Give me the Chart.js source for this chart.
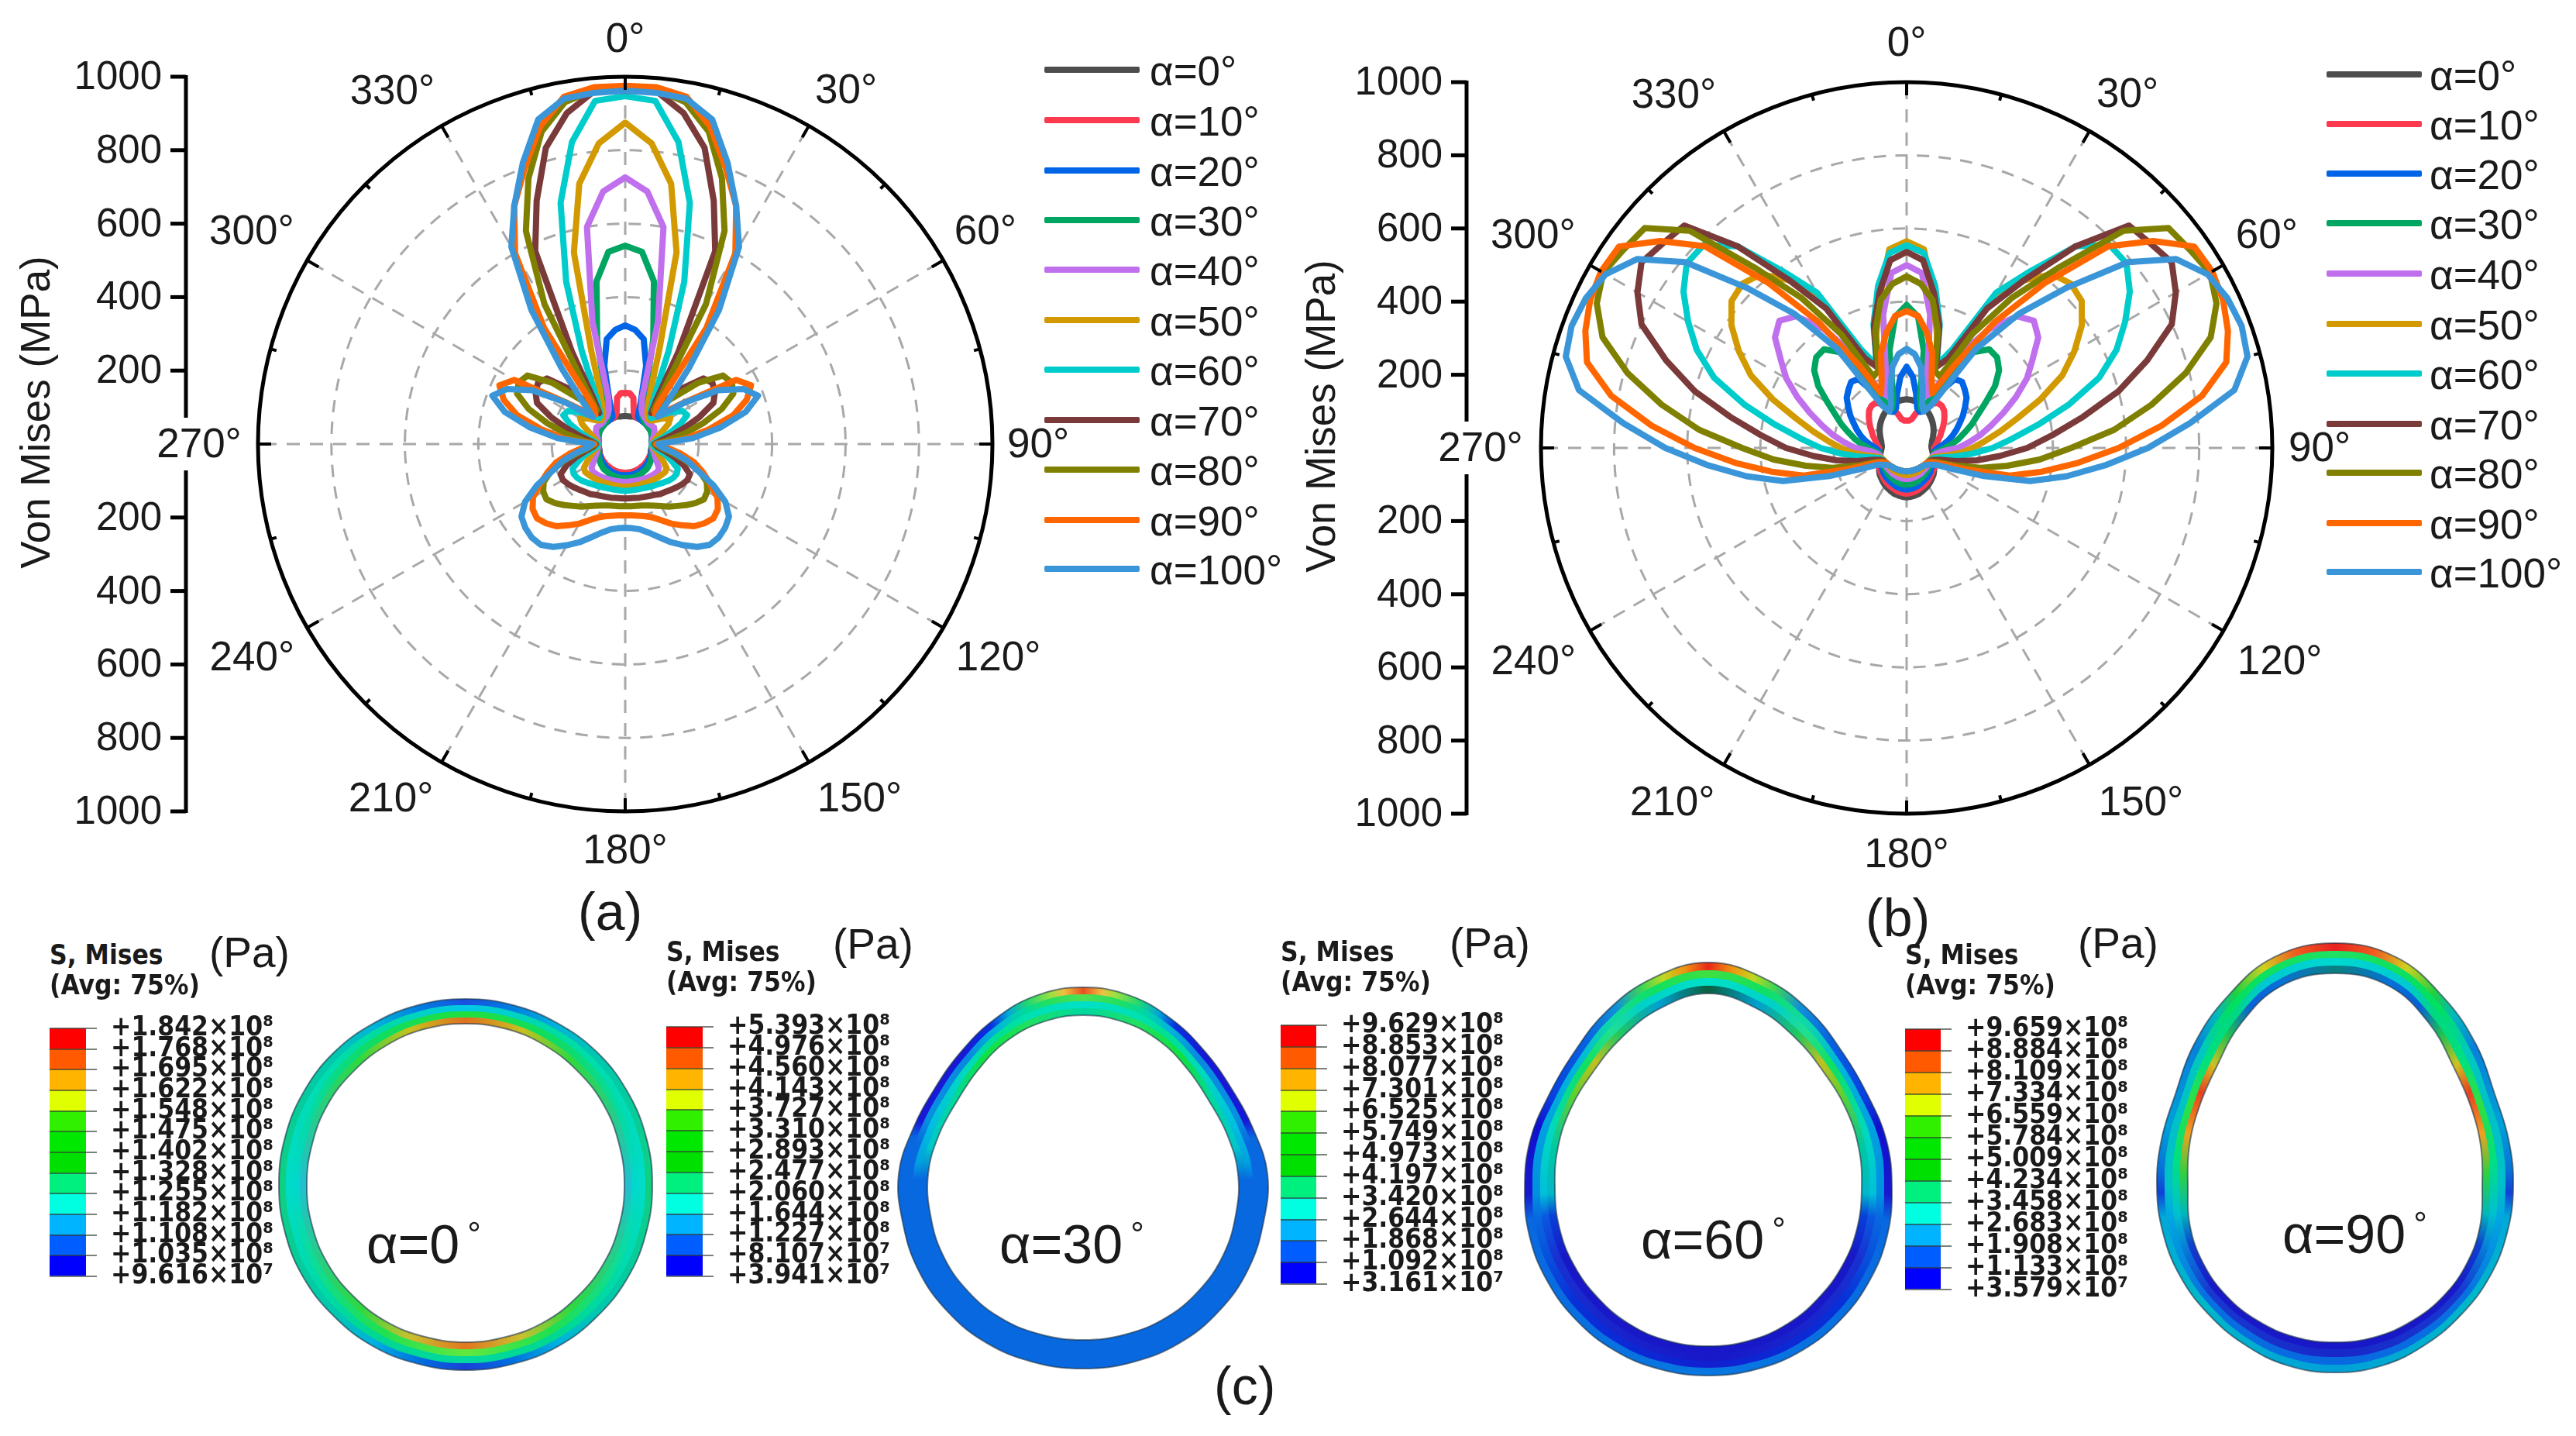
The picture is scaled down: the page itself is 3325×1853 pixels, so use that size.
<!DOCTYPE html>
<html>
<head>
<meta charset="utf-8">
<title>Von Mises polar plots</title>
<script src="https://cdn.jsdelivr.net/npm/chart.js@4/dist/chart.umd.js"></script>
<style>
  html, body { margin: 0; background: #fff; }
  #page { position: relative; width: 3325px; height: 1853px; overflow: hidden; background: #fff; }
  canvas { position: absolute; }
  .txt { position: absolute; white-space: nowrap; color: #1a1a1a; font-family: "Liberation Sans", Arial, sans-serif; }
  .swatch { position: absolute; height: 8px; border-radius: 2px; }
</style>
</head>
<body>
<div id="page"></div>
<script>
// --- data ---
const seriesNames = ['α=0°', 'α=10°', 'α=20°', 'α=30°', 'α=40°', 'α=50°', 'α=60°', 'α=70°', 'α=80°', 'α=90°', 'α=100°'];
const seriesColors = ['#4d4d4d', '#fb3a50', '#0064e6', '#00a562', '#c070ec', '#d29a00', '#00cccc', '#7b3a3a', '#808000', '#ff6600', '#3a96d8'];
const axisTicks = [200, 400, 600, 800, 1000];
const angleTicks = ['0°', '30°', '60°', '90°', '120°', '150°', '180°', '210°', '240°', '270°', '300°', '330°'];

// von Mises stress every 5 deg from 0 to 180, the curves are symmetric about the vertical
const a0 = [76,76,76,78,78,78,78,78,78,78,78,78,78,78,78,76,74,72,72,72,72,72,74,75,76,77,78,78,78,78,78,78,78,78,78,78,78];
const a10 = [139,139,128,90,80,78,78,78,78,78,78,78,78,78,78,76,74,72,72,72,74,74,74,74,74,75,75,76,76,76,77,77,78,78,78,78,78];
const a20 = [323,312,290,220,125,82,78,78,78,78,78,78,78,78,76,76,74,72,72,72,74,74,76,76,78,78,80,80,82,82,83,84,84,85,85,85,85];
const a30 = [540,525,450,295,170,112,92,85,80,78,78,78,78,78,76,76,74,72,72,72,74,76,78,80,82,84,86,88,90,90,91,92,92,93,93,93,93];
const a40 = [726,690,600,345,135,105,95,90,88,85,85,88,90,88,84,80,76,74,72,74,76,80,85,92,100,112,116,114,112,110,108,106,105,104,103,103,103];
const a50 = [875,822,720,540,270,165,125,105,95,92,100,120,142,130,110,95,85,78,74,76,82,92,102,115,130,133,130,127,125,122,120,118,117,116,116,116,116];
const a60 = [947,938,835,680,470,280,170,125,105,100,120,150,180,186,160,130,105,85,74,78,92,115,135,158,162,160,155,148,142,138,134,131,129,128,127,127,127];
const a70 = [962,965,915,835,705,580,290,150,110,210,278,290,282,265,215,165,125,95,80,88,110,140,170,194,196,190,183,176,170,166,160,156,153,151,149,148,148];
const a80 = [965,968,945,880,770,640,440,190,120,170,260,325,335,325,280,220,165,115,82,95,125,170,215,245,258,262,250,235,220,208,195,185,178,173,171,170,169];
const a90 = [975,975,960,895,800,715,600,385,135,115,130,200,349,378,352,305,232,165,85,115,155,195,225,255,290,308,314,305,292,270,250,228,212,203,198,195,194];
const a100 = [962,960,955,915,815,715,620,445,270,165,115,196,293,355,385,340,265,185,90,100,135,175,209,265,315,345,355,360,358,342,318,295,270,250,236,230,228];

const b0 = [133,132,130,128,125,120,115,110,105,100,95,90,85,80,76,72,70,68,68,70,72,75,78,82,86,92,98,104,108,113,118,122,126,130,132,134,135];
const b10 = [75,75,80,98,110,125,140,150,150,145,135,125,115,105,98,90,85,80,75,78,78,80,82,85,88,92,95,98,102,106,110,113,116,119,122,124,125];
const b20 = [222,195,150,112,105,110,170,230,236,225,214,195,178,160,145,130,115,100,85,78,78,78,78,80,82,85,88,92,95,98,100,103,106,109,111,113,114];
const b30 = [391,360,270,140,115,140,200,320,352,350,330,295,250,215,190,165,145,125,105,90,78,75,75,75,76,78,80,83,85,88,90,92,95,97,99,100,100];
const b40 = [500,480,370,220,150,170,300,400,470,492,470,420,380,330,282,240,205,170,140,100,85,76,74,73,73,74,75,76,77,78,80,81,82,83,84,85,85];
const b50 = [565,545,420,320,240,290,470,560,620,635,625,585,530,470,390,314,260,215,180,150,115,90,76,72,70,70,70,70,70,71,71,72,72,73,73,74,74];
const b60 = [554,535,450,350,240,300,490,590,720,785,785,745,690,633,560,460,365,290,235,180,135,100,80,74,72,70,68,67,66,65,65,64,64,64,64,64,64];
const b70 = [536,515,430,345,235,270,440,560,720,860,870,885,850,800,700,600,490,400,330,255,195,140,95,78,72,70,68,67,66,65,65,64,64,64,64,64,64];
const b80 = [469,450,410,330,225,215,360,500,640,840,935,945,958,935,885,790,680,570,450,365,280,210,140,90,75,70,68,67,66,65,65,64,64,64,64,64,64];
const b90 = [374,362,320,270,200,165,260,420,590,780,880,960,965,955,935,905,820,700,580,470,375,292,170,100,78,70,68,67,66,65,65,64,64,64,64,64,64];
const b100 = [271,257,225,170,125,110,135,331,480,620,790,900,950,968,975,965,910,778,660,545,445,350,225,135,92,80,72,68,66,65,65,64,64,64,64,64,64];

// contour legends, top to bottom
const bar0 = ['+1.842×10⁸','+1.768×10⁸','+1.695×10⁸','+1.622×10⁸','+1.548×10⁸','+1.475×10⁸','+1.402×10⁸','+1.328×10⁸','+1.255×10⁸','+1.182×10⁸','+1.108×10⁸','+1.035×10⁸','+9.616×10⁷'];
const bar30 = ['+5.393×10⁸','+4.976×10⁸','+4.560×10⁸','+4.143×10⁸','+3.727×10⁸','+3.310×10⁸','+2.893×10⁸','+2.477×10⁸','+2.060×10⁸','+1.644×10⁸','+1.227×10⁸','+8.107×10⁷','+3.941×10⁷'];
const bar60 = ['+9.629×10⁸','+8.853×10⁸','+8.077×10⁸','+7.301×10⁸','+6.525×10⁸','+5.749×10⁸','+4.973×10⁸','+4.197×10⁸','+3.420×10⁸','+2.644×10⁸','+1.868×10⁸','+1.092×10⁸','+3.161×10⁷'];
const bar90 = ['+9.659×10⁸','+8.884×10⁸','+8.109×10⁸','+7.334×10⁸','+6.559×10⁸','+5.784×10⁸','+5.009×10⁸','+4.234×10⁸','+3.458×10⁸','+2.683×10⁸','+1.908×10⁸','+1.133×10⁸','+3.579×10⁷'];
const barColors = ['#0000ff', '#005dff', '#00b4ff', '#00ffe0', '#00f080', '#00e000', '#00e800', '#30f000', '#e0ff00', '#ffb400', '#ff5a00', '#ff0000'];

// ring contours: radius every 15 deg from the top to the bottom, outer edge to hole
const ring0 = [
  [240,240,240,241,241,241,241,241,241,240,240,239,239],
  [232,232,232,232,232,232,232,232,232,231,231,230,230],
  [224,224,224,224,223,223,223,223,223,222,222,221,221],
  [216,216,215,215,215,214,214,214,214,213,213,212,212],
  [208,208,207,206,206,205,205,205,205,204,204,203,203]
];
const ring30 = [
  [241,238,230,223,221,227,238,241,246,249,251,251,251],
  [232,229,222,215,213,218,229,232,237,240,242,242,242],
  [223,221,214,207,205,210,219,223,228,231,233,233,233],
  [214,212,206,199,196,201,210,213,218,221,223,223,223],
  [205,203,198,191,188,193,200,204,209,212,214,214,214]
];
const ring60 = [
  [291,280,263,246,238,238,237,239,240,241,242,242,242],
  [281,270,253,237,229,229,227,229,230,231,232,232,232],
  [271,260,244,229,221,219,217,219,220,221,223,223,223],
  [261,250,234,220,213,210,208,209,210,211,213,214,214],
  [251,240,224,211,205,201,198,199,200,201,203,204,204]
];
const ring90 = [
  [314,306,281,258,238,232,230,230,231,232,235,239,240],
  [304,296,271,248,229,223,220,221,222,223,226,229,230],
  [295,287,262,238,220,213,210,212,214,215,217,220,220],
  [285,277,252,227,211,204,200,203,205,207,208,210,210],
  [275,268,243,217,203,195,190,194,197,199,200,201,201]
];

// colour around each ring zone, [angle from top, colour]
const zones0 = [
  [[0,'#1a50e0'],[15,'#0080e0'],[30,'#00b4d8'],[45,'#00c8b0'],[90,'#10d080'],[135,'#00c8b0'],[150,'#00b0e0'],[165,'#0070e0'],[180,'#1a40d8']],
  [[0,'#00c8e8'],[30,'#00dca0'],[90,'#00dcc8'],[150,'#00d890'],[180,'#00d8a0']],
  [[0,'#20e040'],[30,'#10dc60'],[90,'#00d8d0'],[150,'#20e050'],[180,'#60e840']],
  [[0,'#e07020'],[20,'#c8c020'],[40,'#30d840'],[90,'#20c0d0'],[140,'#30d840'],[160,'#c8c030'],[180,'#e07820']]
];
const zones30 = [
  [[0,'#e85020'],[6,'#f0c040'],[10,'#a0e040'],[18,'#20d870'],[25,'#00a8d8'],[32,'#0830e0'],[45,'#1818d8'],[72,'#1818d8'],[78,'#0868e0'],[180,'#0868e0']],
  [[0,'#50e050'],[12,'#20e060'],[20,'#00d8a0'],[30,'#00b8d8'],[45,'#0888e0'],[70,'#0890e0'],[80,'#0868e0'],[180,'#0868e0']],
  [[0,'#00e0c8'],[20,'#00e0b0'],[30,'#00e090'],[50,'#00d8c0'],[72,'#00c0e0'],[86,'#00a0e0'],[92,'#0868e0'],[180,'#0868e0']],
  [[0,'#00d8a0'],[20,'#20e060'],[40,'#10e040'],[60,'#00d8a0'],[80,'#00c8c8'],[92,'#0868e0'],[180,'#0868e0']]
];
const zones60 = [
  [[0,'#e82818'],[6,'#f09010'],[12,'#c0d820'],[18,'#40d850'],[27,'#1090d8'],[40,'#0860e0'],[60,'#0840e0'],[70,'#1010d0'],[92,'#1818d0'],[100,'#0868e0'],[180,'#0878e0']],
  [[0,'#40e040'],[15,'#10e060'],[30,'#10d8a8'],[45,'#00b8d8'],[70,'#00a0e0'],[92,'#0090e0'],[100,'#0868e0'],[130,'#0830d8'],[180,'#1020d0']],
  [[0,'#00e0c8'],[20,'#00d0c8'],[32,'#20e090'],[45,'#10e060'],[70,'#00d8c0'],[92,'#00c0d8'],[100,'#0858e0'],[115,'#1830d0'],[180,'#1818c8']],
  [[0,'#0a6040'],[15,'#00a0d0'],[30,'#20c860'],[42,'#c0c020'],[55,'#60d030'],[75,'#00c8a0'],[92,'#00b8c8'],[100,'#0840d8'],[115,'#1818c8'],[180,'#1818c8']]
];
const zones90 = [
  [[0,'#e82020'],[10,'#f06020'],[18,'#d0d020'],[27,'#20d040'],[35,'#00b8c0'],[45,'#0880d8'],[70,'#00a0d8'],[85,'#0870d8'],[92,'#1040d8'],[100,'#00a8d8'],[130,'#00b8c8'],[180,'#00a0d8']],
  [[0,'#20e060'],[15,'#10e060'],[30,'#00e060'],[45,'#00c8c0'],[70,'#00c0c8'],[90,'#00c0c8'],[100,'#00a8e0'],[130,'#0870e0'],[180,'#0868e0']],
  [[0,'#00d8d0'],[20,'#00c8d0'],[30,'#00d880'],[45,'#00e080'],[60,'#30e040'],[80,'#00e080'],[100,'#00c0d0'],[115,'#0870d8'],[130,'#1838d0'],[180,'#1828c8']],
  [[0,'#0a8080'],[15,'#0870d8'],[25,'#0860d8'],[35,'#20c050'],[45,'#d0c020'],[55,'#e84020'],[70,'#f0a020'],[85,'#30d040'],[100,'#00b8b8'],[112,'#1040d0'],[130,'#1818c8'],[180,'#1818c8']]
];

// --- helpers ---
const page = document.getElementById('page');
Chart.defaults.font.family = '"Liberation Sans", Arial, sans-serif';
Chart.defaults.color = '#1a1a1a';

function addCanvas(left, top, w, h) {
  const c = document.createElement('canvas');
  c.width = w;
  c.height = h;
  c.style.left = left + 'px';
  c.style.top = top + 'px';
  c.style.width = w + 'px';
  c.style.height = h + 'px';
  page.appendChild(c);
  return c;
}

function addText(html, x, y, size, extra) {
  const d = document.createElement('div');
  d.className = 'txt';
  d.innerHTML = html;
  d.style.left = x + 'px';
  d.style.top = y + 'px';
  d.style.fontSize = size + 'px';
  d.style.lineHeight = size + 'px';
  d.style.transform = 'translateY(-50%)';
  if (extra) d.style.cssText += extra;
  page.appendChild(d);
  return d;
}

// right half was read, left half is its mirror image
function mirror(half) {
  return half.concat(half.slice(1, -1).reverse());
}

// where each angle label sits: distance from the centre in px, small turn in deg
const labelDist = [523, 538, 540, 533, 555, 548, 524, 548, 555, 550, 555, 546];
const labelTurn = [0, 2, -0.6, 0, -0.2, -3.5, 0, 3.5, 0.2, 0, -0.3, -3.4];

const polarFrame = {
  id: 'polarFrame',
  afterDraw(chart, args, opts) {
    const { ctx } = chart;
    const r = chart.scales.r;
    const cy = r.yCenter;
    const R = r.drawingArea;
    ctx.save();
    ctx.strokeStyle = '#000';
    ctx.fillStyle = '#1a1a1a';

    // short ticks on the outer circle
    ctx.lineWidth = 4;
    for (let i = 0; i < 72; i += 3) {
      const from = r.getPointPosition(i, R);
      const to = r.getPointPosition(i, R - (i % 6 === 0 ? 17 : 8));
      ctx.beginPath();
      ctx.moveTo(from.x, from.y);
      ctx.lineTo(to.x, to.y);
      ctx.stroke();
    }

    // stress axis on the left, runs both ways from the centre
    ctx.lineWidth = 5;
    ctx.beginPath();
    ctx.moveTo(opts.axisX, cy - R - 2);
    ctx.lineTo(opts.axisX, cy + R + 2);
    ctx.stroke();
    ctx.font = '51px "Liberation Sans"';
    ctx.textAlign = 'right';
    ctx.textBaseline = 'middle';
    axisTicks.forEach(v => {
      const d = r.getDistanceFromCenterForValue(v);
      [cy - d, cy + d].forEach(y => {
        ctx.beginPath();
        ctx.moveTo(opts.axisX - 20, y);
        ctx.lineTo(opts.axisX, y);
        ctx.stroke();
        ctx.fillText(String(v), opts.axisX - 31, y + 2);
      });
    });

    // white box behind the 270 label cuts the axis
    ctx.fillStyle = '#fff';
    ctx.fillRect(opts.axisX - 37, cy - 34, 112, 68);
    ctx.fillStyle = '#1a1a1a';
    ctx.textAlign = 'center';
    ctx.font = '53px "Liberation Sans"';
    angleTicks.forEach((label, i) => {
      const p = r.getPointPosition(i * 6, labelDist[i], labelTurn[i] * Math.PI / 180);
      ctx.fillText(label, p.x, p.y + 2);
    });

    ctx.translate(opts.titleX, cy - 41);
    ctx.rotate(-Math.PI / 2);
    ctx.fillText('Von Mises (MPa)', 0, 0);
    ctx.restore();
  }
};

function polarChart(box, series, frame) {
  const labels = mirror(series[0]).map((v, i) => String(i * 5));
  new Chart(addCanvas(box.left, box.top, box.w, box.h), {
    type: 'radar',
    data: {
      labels,
      datasets: series.map((values, i) => ({
        label: seriesNames[i],
        data: mirror(values),
        borderColor: seriesColors[i],
        backgroundColor: i === 0 ? '#fff' : 'transparent',
        // the 0 degree curve closes off the white hub in the middle
        fill: i === 0 ? 'origin' : false,
        borderWidth: 8,
        borderJoinStyle: 'round',
        pointRadius: 0,
        tension: 0,
        // lowest order is painted last, so the 100 degree curve ends up on top
        order: series.length - i
      }))
    },
    options: {
      responsive: false,
      animation: false,
      devicePixelRatio: 1,
      events: [],
      layout: { padding: box.padding },
      plugins: { legend: { display: false }, tooltip: { enabled: false }, polarFrame: frame },
      scales: {
        r: {
          min: 0,
          max: 1000,
          ticks: { display: false, stepSize: 200 },
          pointLabels: { display: false },
          grid: {
            circular: true,
            color: c => (c.tick && c.tick.value === 1000 ? '#000' : '#a8a8a8'),
            lineWidth: c => (c.tick && c.tick.value === 1000 ? 5 : 3)
          },
          border: { dash: c => (c.tick && c.tick.value === 1000 ? [] : [16, 12]) },
          angleLines: {
            color: '#a8a8a8',
            lineWidth: c => (c.index % 6 === 0 ? 3 : 0),
            borderDash: [17, 13]
          }
        }
      }
    },
    plugins: [polarFrame]
  });
}

function legendColumn(lineX, textX, ys) {
  seriesNames.forEach((name, i) => {
    const s = document.createElement('div');
    s.className = 'swatch';
    s.style.cssText = 'left:' + lineX + 'px;top:' + (ys[i] - 4) + 'px;width:123px;background:' + seriesColors[i];
    page.appendChild(s);
    addText(name, textX, ys[i] + 1, 53);
  });
}

function colorBar(left, top, barW, barH, ticks) {
  const pad = 20;
  const labelW = 270;
  new Chart(addCanvas(left, top - pad, barW + labelW, barH + pad * 2), {
    type: 'bar',
    data: {
      labels: ['S'],
      datasets: barColors.map(c => ({ data: [1], backgroundColor: c, barPercentage: 1, categoryPercentage: 1, stack: 's' }))
    },
    options: {
      responsive: false,
      animation: false,
      devicePixelRatio: 1,
      events: [],
      layout: { padding: { top: pad, bottom: pad } },
      plugins: { legend: { display: false }, tooltip: { enabled: false } },
      scales: {
        x: { display: false, stacked: true },
        y: {
          stacked: true,
          position: 'right',
          min: 0,
          max: 12,
          afterFit: s => { s.width = labelW; },
          grid: { color: 'rgba(50,60,50,.65)', lineWidth: 2, tickLength: 14, z: 1 },
          border: { display: false },
          ticks: {
            stepSize: 1,
            autoSkip: false,
            maxRotation: 0,
            padding: 18,
            color: '#1a1a1a',
            font: { family: '"DejaVu Sans Condensed", "DejaVu Sans"', weight: 'bold', size: 35 },
            callback: v => ticks[12 - v]
          }
        }
      }
    }
  });
}

function conic(stops) {
  return ctx => {
    const c = ctx.chart;
    const g = c.ctx.createConicGradient(-Math.PI / 2, c.width / 2, c.height / 2);
    stops.forEach(([deg, color]) => {
      g.addColorStop(deg / 360, color);
      g.addColorStop((360 - deg) / 360, color);
    });
    return g;
  };
}

function ringChart(cx, cy, radii, zones) {
  const half = 330;
  const labels = mirror(radii[0]).map((v, i) => String(i * 15));
  // filler paints the last dataset first, so the hole goes first
  const datasets = [{
    data: mirror(radii[4]),
    backgroundColor: '#fff',
    fill: 'origin',
    tension: 0.4,
    pointRadius: 0,
    borderColor: 'rgba(30,50,70,.6)',
    borderWidth: 2
  }];
  for (let i = 3; i >= 0; i--) {
    datasets.push({
      data: mirror(radii[i]),
      backgroundColor: conic(zones[i]),
      fill: 'origin',
      tension: 0.4,
      pointRadius: 0,
      borderColor: i === 0 ? 'rgba(30,50,70,.6)' : 'transparent',
      borderWidth: i === 0 ? 2 : 0
    });
  }
  new Chart(addCanvas(cx - half, cy - half, half * 2, half * 2), {
    type: 'radar',
    data: { labels, datasets },
    options: {
      responsive: false,
      animation: false,
      devicePixelRatio: 1,
      events: [],
      plugins: { legend: { display: false }, tooltip: { enabled: false } },
      scales: { r: { display: false, min: 0, max: half, grid: { circular: false }, ticks: { display: false }, pointLabels: { display: false } } }
    }
  });
}

// --- rings first, so they sit under the texts ---
ringChart(601, 1529, ring0, zones0);
ringChart(1398, 1515, ring30, zones30);
ringChart(2205, 1533, ring60, zones60);
ringChart(3014, 1531, ring90, zones90);

// --- polar panels ---
polarChart(
  { left: 0, top: 0, w: 1660, h: 1120, padding: { left: 333, right: 379, top: 99, bottom: 73 } },
  [a0, a10, a20, a30, a40, a50, a60, a70, a80, a90, a100],
  { axisX: 240, titleX: 49 }
);
polarChart(
  { left: 1660, top: 0, w: 1665, h: 1120, padding: { left: 329, right: 392, top: 106, bottom: 70 } },
  [b0, b10, b20, b30, b40, b50, b60, b70, b80, b90, b100],
  { axisX: 233, titleX: 48 }
);
legendColumn(1348, 1484, [90, 155, 220, 284, 348, 413, 477, 542, 606, 671, 734]);
legendColumn(3003, 3136, [96, 160, 224, 288, 353, 418, 482, 547, 610, 675, 738]);

// --- contour legends ---
colorBar(64, 1308, 47, 358, bar0);
colorBar(860, 1306, 47, 360, bar30);
colorBar(1653, 1304, 46, 372, bar60);
colorBar(2459, 1309, 46, 374, bar90);

const boldCss = 'font-family:"DejaVu Sans Condensed","DejaVu Sans";font-weight:bold;';
[[64, 1232, 1271], [860, 1228, 1267], [1653, 1228, 1267], [2459, 1232, 1271]].forEach(([x, y1, y2]) => {
  addText('S, Mises', x, y1, 35, boldCss);
  addText('(Avg: 75%)', x, y2, 35, boldCss);
});
[[270, 1229], [1075, 1218], [1871, 1217], [2682, 1217]].forEach(([x, y]) => addText('(Pa)', x, y, 55));

// ring captions
[['α=0', 473, 1610], ['α=30', 1290, 1610], ['α=60', 2118, 1604], ['α=90', 2946, 1597]].forEach(([t, x, y]) => {
  addText(t + '<span style="font-size:44px;position:relative;top:-22px;margin-left:10px">°</span>', x, y, 70);
});

// panel letters
addText('(a)', 746, 1176, 68);
addText('(b)', 2408, 1184, 68);
addText('(c)', 1567, 1788, 68);
</script>
</body>
</html>
